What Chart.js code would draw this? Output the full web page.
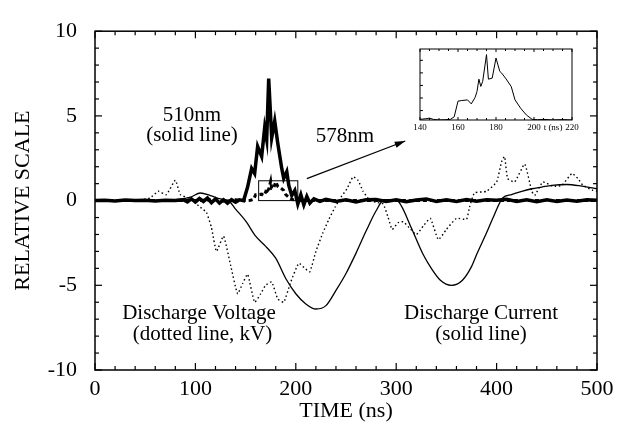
<!DOCTYPE html>
<html><head><meta charset="utf-8">
<script src="https://cdn.jsdelivr.net/npm/chart.js@4.4.1/dist/chart.umd.min.js"></script>
<style>
html,body{margin:0;padding:0;background:#fff;}
#wrap{position:relative;width:627px;height:428px;overflow:hidden;}
#main{position:absolute;left:0;top:0;}
#inset{position:absolute;left:400px;top:40px;}
</style></head><body>
<div id="wrap"><canvas id="main" width="627" height="428"></canvas><canvas id="inset" width="195" height="100"></canvas></div>
<script>
// ---- data ----
const time510 = [0,10,20,30,40,50,60,70,80,88,92,96,100,104,108,112,116,120,124,128,132,136,140,144,148,152,156,159,162,166,169,171,173,176,179,182,186,188,191,193,196,199,202,205,208,211,214,218,224,230,240,250,260,270,280,290,300,310,320,330,340,350,360,370,380,390,400,410,420,430,440,450,460,470,480,490,500];
const val510  = [0,0.02,-0.02,0.03,0,0.02,-0.03,0.02,0,0.05,-0.08,0.1,-0.08,0.12,-0.05,0.15,-0.12,0.1,-0.15,0.05,-0.15,0.05,-0.1,0.05,0.0,0.8,1.9,1.6,3.2,2.6,4.3,3.6,7.2,3.7,4.7,3.4,1.9,1.3,1.7,0.9,0.3,0.6,-0.2,0.35,-0.25,0.25,-0.15,0.1,-0.05,0.08,-0.05,0.05,-0.08,0.05,0.06,-0.05,0.05,-0.06,0.04,0.1,-0.05,0.05,-0.05,0.06,-0.04,0.05,0.02,0.08,-0.05,0.05,-0.06,0.05,-0.05,0.04,-0.04,0.05,0.02];

const time578 = [0,100,120,130,140,150,155,158,160,163,166,168,170,171,172,173,175,176,178,180,182,185,188,190,193,196,199,205,220,500];
const val578  = [0,0,0.05,-0.05,0.05,0,0.02,0.08,0.35,0.36,0.38,0.3,0.5,0.72,0.6,0.68,1.15,0.72,0.74,1.1,0.85,0.74,0.6,0.36,0.2,0.09,0.01,0,0,0];

const timeCur = [0,40,80,95,105,115,125,133,140,150,160,170,180,190,200,210,220,230,240,250,260,270,280,288,300,305,315,327,335,344,355,366,375,380,390,398,406,415,425,435,445,455,470,485,500];
const valCur  = [0,0,0.05,0.2,0.45,0.3,0.1,0,-0.5,-1.2,-2.1,-2.7,-3.4,-4.6,-5.5,-6.1,-6.4,-6.2,-5.3,-4.3,-3.1,-1.8,-0.6,0.05,0.05,-0.3,-1.6,-3.2,-4.0,-4.7,-5.0,-4.7,-3.9,-3.2,-1.9,-0.8,0.15,0.35,0.55,0.7,0.8,0.9,0.95,0.85,0.7];

const timeVolt = [0,40,50,55,63,71,80,85,95,105,111,116,121,128,135,142,147,152,159,165,170,176,182,188,195,203,209,214,220,227,233,239,245,251,257,262,267,274,280,287,292,296,302,307,313,320,327,334,342,350,360,370,373,378,390,400,405,408,411,418,428,435,438,446,456,465,475,481,486,496,500];
const valVolt  = [0,0,0.1,0.15,0.55,0.35,1.2,0.35,0.1,-0.4,-0.7,-1.6,-3.0,-2.1,-3.8,-5.5,-4.9,-4.35,-6.0,-5.5,-5.0,-4.8,-5.8,-6.0,-4.8,-3.7,-4.0,-4.2,-3.0,-1.9,-1.1,-0.4,0.2,0.7,1.4,1.2,0.55,0,-0.1,-0.2,-1.0,-1.7,-1.3,-1.25,-1.6,-2.0,-1.5,-1.05,-2.3,-1.7,-1.05,-1.1,-0.4,0.45,0.55,1.1,2.3,2.6,1.3,1.1,2.15,0.55,0.3,1.1,0.85,0.9,1.6,1.3,0.9,0.6,0.55];

const timeInset = [140,143,145,147,150,153,156,158,160,162,165,167,169,170,171,172,173,175,176,178,180,182,183,185,188,190,193,196,199,202,205,210,215,220];
const valInset  = [0.05,0.1,0.15,0.05,0,0.02,0.05,0.25,1.5,1.55,1.6,1.28,1.8,2.27,3.25,2.67,3.07,5.2,3.25,3.33,4.93,3.87,3.73,3.33,2.67,1.6,0.93,0.4,0.05,0.02,0.05,0,0.03,0];
const insetYTicks = [0.75,1.75,2.75,3.75,4.75];
const insetXLabels = [140,160,180,200,210,220];

const xTicksMain = [0,100,200,300,400,500];
const yTicksMain = [-10,-5,0,5,10];

function pts(t, v){ return t.map((x,i)=>({x:x, y:v[i]})); }

const SERIF = 'Liberation Serif';

function line(ctx,x1,y1,x2,y2){ ctx.beginPath(); ctx.moveTo(x1,y1); ctx.lineTo(x2,y2); ctx.stroke(); }

const framePlugin = {
  id:'frame',
  afterDatasetsDraw(chart){
    const {ctx, chartArea:a, scales:{x,y}} = chart;
    ctx.save();
    ctx.strokeStyle='#000'; ctx.fillStyle='#000';
    ctx.lineWidth=1.5;
    ctx.strokeRect(a.left, a.top, a.right-a.left, a.bottom-a.top);
    ctx.lineWidth=1.2;
    for(let v=0; v<=500; v+=20){
      const px=x.getPixelForValue(v), L=(v%100===0)?7:4;
      line(ctx,px,a.bottom,px,a.bottom-L); line(ctx,px,a.top,px,a.top+L);
    }
    for(let v=-10; v<=10; v+=1){
      const py=y.getPixelForValue(v), L=(v%5===0)?7:4;
      line(ctx,a.left,py,a.left+L,py); line(ctx,a.right,py,a.right-L,py);
    }
    // zoom box around the 578nm peak
    ctx.lineWidth=1;
    const bx1=x.getPixelForValue(163), bx2=x.getPixelForValue(202);
    const by1=y.getPixelForValue(1.17), by2=y.getPixelForValue(0);
    ctx.strokeRect(bx1,by1,bx2-bx1,by2-by1);
    // arrow
    const ax1=x.getPixelForValue(211), ay1=y.getPixelForValue(1.3);
    const ax2=x.getPixelForValue(309), ay2=y.getPixelForValue(3.52);
    ctx.lineWidth=1.2;
    line(ctx,ax1,ay1,ax2,ay2);
    const ang=Math.atan2(ay2-ay1, ax2-ax1);
    ctx.beginPath();
    ctx.moveTo(ax2,ay2);
    ctx.lineTo(ax2-11*Math.cos(ang-0.3), ay2-11*Math.sin(ang-0.3));
    ctx.lineTo(ax2-11*Math.cos(ang+0.3), ay2-11*Math.sin(ang+0.3));
    ctx.closePath(); ctx.fill();
    // annotations
    ctx.font = '21px "'+SERIF+'"';
    ctx.textAlign='center'; ctx.textBaseline='middle';
    const T=(s,t,v)=>ctx.fillText(s, x.getPixelForValue(t), y.getPixelForValue(v));
    T('510nm', 96.6, 5.03);
    T('(solid line)', 96.6, 3.87);
    T('578nm', 249, 3.79);
    T('Discharge Voltage', 103.6, -6.66);
    T('(dotted line, kV)', 107, -7.9);
    T('Discharge Current', 384.5, -6.66);
    T('(solid line)', 384.5, -7.9);
    ctx.restore();
  }
};

new Chart(document.getElementById('main'), {
  type:'line',
  data:{datasets:[
    {label:'578nm', data:pts(time578,val578), borderColor:'#000', borderWidth:3, borderDash:[4,3], pointRadius:0, tension:0},
    {label:'Discharge Voltage', data:pts(timeVolt,valVolt), borderColor:'#000', borderWidth:1.4, borderDash:[1.5,2.6], pointRadius:0, tension:0.15},
    {label:'Discharge Current', data:pts(timeCur,valCur), borderColor:'#000', borderWidth:1.3, pointRadius:0, cubicInterpolationMode:'monotone'},
    {label:'510nm', data:pts(time510,val510), borderColor:'#000', borderWidth:3.5, pointRadius:0, tension:0}
  ]},
  options:{
    responsive:false, devicePixelRatio:1, animation:false,
    plugins:{legend:{display:false}, tooltip:{enabled:false}},
    layout:{padding:{left:0, top:16, right:30, bottom:0}},
    scales:{
      x:{type:'linear', min:0, max:500,
         afterFit(s){ s.height=58; },
         afterBuildTicks(s){ s.ticks = xTicksMain.map(v=>({value:v})); },
         grid:{display:false, drawTicks:false}, border:{display:false},
         ticks:{font:{family:SERIF,size:22}, color:'#000', padding:6, maxRotation:0, autoSkip:false},
         title:{display:true, text:'TIME (ns)', font:{family:SERIF,size:22}, color:'#000', padding:{top:0,bottom:4}}},
      y:{type:'linear', min:-10, max:10,
         afterFit(s){ s.width=95; },
         afterBuildTicks(s){ s.ticks = yTicksMain.map(v=>({value:v})); },
         grid:{display:false, drawTicks:false}, border:{display:false},
         ticks:{font:{family:SERIF,size:22}, color:'#000', padding:18, autoSkip:false},
         title:{display:true, text:'RELATIVE SCALE', font:{family:SERIF,size:22}, color:'#000', padding:{top:10,bottom:0}}}
    }
  },
  plugins:[framePlugin]
});

const insetFrame = {
  id:'insetFrame',
  afterDatasetsDraw(chart){
    const {ctx, chartArea:a, scales:{x,y}} = chart;
    ctx.save(); ctx.strokeStyle='#000'; ctx.lineWidth=1;
    ctx.strokeRect(a.left, a.top, a.right-a.left, a.bottom-a.top);
    for(let v=140; v<=220; v+=5){
      const px=x.getPixelForValue(v), L=(v%20===0)?3:2;
      line(ctx,px,a.bottom,px,a.bottom-L); line(ctx,px,a.top,px,a.top+L);
    }
    insetYTicks.forEach(v=>{ const py=y.getPixelForValue(v); line(ctx,a.left,py,a.left+3,py); });
    ctx.restore();
  }
};

new Chart(document.getElementById('inset'), {
  type:'line',
  data:{datasets:[{label:'578nm detail', data:pts(timeInset,valInset), borderColor:'#000', borderWidth:1, pointRadius:0, tension:0}]},
  options:{
    responsive:false, devicePixelRatio:1, animation:false,
    plugins:{legend:{display:false}, tooltip:{enabled:false}},
    layout:{padding:{left:0, top:9, right:23, bottom:0}},
    scales:{
      x:{type:'linear', min:140, max:220,
         afterFit(s){ s.height=20; },
         afterBuildTicks(s){ s.ticks=insetXLabels.map(v=>({value:v})); },
         grid:{display:false, drawTicks:false}, border:{display:false},
         ticks:{font:{family:SERIF,size:9}, color:'#000', padding:2, maxRotation:0, autoSkip:false,
                callback:(v)=> v===210 ? 't (ns)' : String(v)}},
      y:{type:'linear', min:0, max:5.65,
         afterFit(s){ s.width=20; },
         grid:{display:false, drawTicks:false}, border:{display:false},
         ticks:{display:false}}
    }
  },
  plugins:[insetFrame]
});
</script>
</body></html>
